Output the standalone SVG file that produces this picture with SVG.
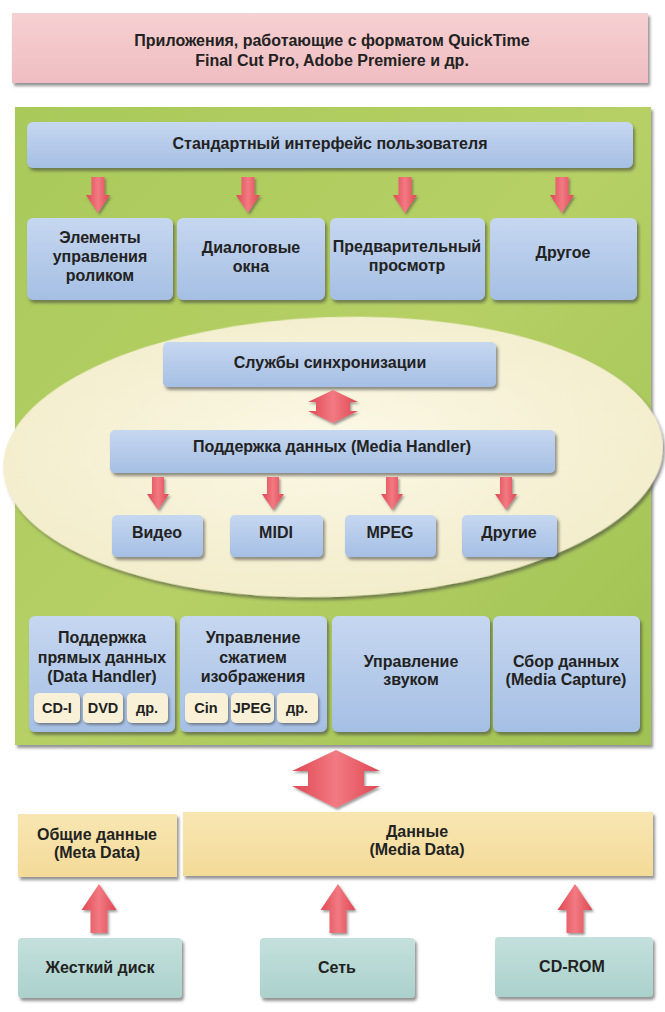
<svg xmlns="http://www.w3.org/2000/svg" width="665" height="1012" viewBox="0 0 665 1012">
<defs>
<filter id="sh" x="-10%" y="-10%" width="125%" height="135%">
<feDropShadow dx="2" dy="3" stdDeviation="1.6" flood-color="#3a3a3a" flood-opacity="0.55"/>
</filter>
<filter id="shs" x="-10%" y="-10%" width="125%" height="135%">
<feDropShadow dx="1.5" dy="2" stdDeviation="1.2" flood-color="#3a3a3a" flood-opacity="0.5"/>
</filter>
<linearGradient id="gBlue" x1="0" y1="0" x2="0" y2="1">
<stop offset="0" stop-color="#c6d7f0"/><stop offset="1" stop-color="#a5bfe4"/>
</linearGradient>
<linearGradient id="gPink" x1="0" y1="0" x2="0" y2="1">
<stop offset="0" stop-color="#f6d0d2"/><stop offset="1" stop-color="#efbdc1"/>
</linearGradient>
<linearGradient id="gGreen" x1="0" y1="0" x2="1" y2="1">
<stop offset="0" stop-color="#a9c95a"/><stop offset="0.5" stop-color="#b6d066"/><stop offset="1" stop-color="#9fc252"/>
</linearGradient>
<linearGradient id="gYellow" x1="0" y1="0" x2="0" y2="1">
<stop offset="0" stop-color="#f8e6b2"/><stop offset="1" stop-color="#f3da98"/>
</linearGradient>
<linearGradient id="gTeal" x1="0" y1="0" x2="0" y2="1">
<stop offset="0" stop-color="#c4e0dc"/><stop offset="1" stop-color="#abd1cc"/>
</linearGradient>
<linearGradient id="gRed" x1="0" y1="0" x2="1" y2="0">
<stop offset="0" stop-color="#df4753"/><stop offset="0.5" stop-color="#f27a82"/><stop offset="1" stop-color="#df4753"/>
</linearGradient>
<radialGradient id="gCream" cx="0.5" cy="0.45" r="0.6">
<stop offset="0" stop-color="#fbf8e6"/><stop offset="1" stop-color="#f2ecc9"/>
</radialGradient>
</defs>
<style>
.t{font-family:"Liberation Sans",Arial,sans-serif;font-size:16px;font-weight:bold;fill:#222;text-anchor:middle}
.s{font-size:14.5px}
.blue{fill:url(#gBlue);filter:url(#sh)}
.sub{fill:#f8f1d8;filter:url(#shs)}
.arrow{fill:url(#gRed);filter:url(#shs)}
</style>
<rect width="665" height="1012" fill="#ffffff"/>

<g id="apps">
<rect x="12" y="13" width="636" height="70" fill="url(#gPink)" filter="url(#sh)"/>
<text class="t" x="332" y="46">Приложения, работающие с форматом QuickTime</text>
<text class="t" x="332" y="66">Final Cut Pro, Adobe Premiere и др.</text>
</g>

<g id="quicktime-panel">
<rect x="15" y="107" width="636" height="638" fill="url(#gGreen)" filter="url(#sh)"/>
</g>

<g id="ui">
<rect class="blue" x="27" y="122" width="606" height="46" rx="6"/>
<text class="t" x="330" y="149">Стандартный интерфейс пользователя</text>
</g>

<g id="movie-controls">
<rect class="blue" x="27" y="218" width="146" height="82" rx="6"/>
<text class="t" x="100" y="243">Элементы</text>
<text class="t" x="100" y="262">управления</text>
<text class="t" x="100" y="281">роликом</text>
</g>
<g id="dialogs">
<rect class="blue" x="177" y="218" width="148" height="82" rx="6"/>
<text class="t" x="251" y="253">Диалоговые</text>
<text class="t" x="251" y="272">окна</text>
</g>
<g id="preview">
<rect class="blue" x="330" y="218" width="155" height="82" rx="6"/>
<text class="t" x="407" y="252">Предварительный</text>
<text class="t" x="407" y="271">просмотр</text>
</g>
<g id="other-ui">
<rect class="blue" x="490" y="218" width="147" height="82" rx="6"/>
<text class="t" x="563" y="258">Другое</text>
</g>

<g id="toolbox">
<ellipse cx="333" cy="457" rx="330" ry="140" transform="rotate(-2 333 457)" fill="url(#gCream)" filter="url(#sh)"/>
</g>

<g id="sync">
<rect class="blue" x="163" y="342" width="333" height="45" rx="5"/>
<text class="t" x="330" y="368">Службы синхронизации</text>
</g>
<g id="media-handler">
<rect class="blue" x="110" y="430" width="445" height="43" rx="5"/>
<text class="t" x="332" y="452">Поддержка данных (Media Handler)</text>
</g>
<g id="video">
<rect class="blue" x="112" y="515" width="91" height="42" rx="5"/>
<text class="t" x="157" y="538">Видео</text>
</g>
<g id="midi">
<rect class="blue" x="230" y="515" width="93" height="42" rx="5"/>
<text class="t" x="276" y="538">MIDI</text>
</g>
<g id="mpeg">
<rect class="blue" x="345" y="515" width="91" height="42" rx="5"/>
<text class="t" x="390" y="538">MPEG</text>
</g>
<g id="other-media">
<rect class="blue" x="462" y="515" width="95" height="42" rx="5"/>
<text class="t" x="509" y="538">Другие</text>
</g>

<g id="data-handler">
<rect class="blue" x="29" y="616" width="146" height="116" rx="6"/>
<text class="t" x="102" y="643">Поддержка</text>
<text class="t" x="102" y="663">прямых данных</text>
<text class="t" x="102" y="682">(Data Handler)</text>
<rect class="sub" x="34" y="693" width="46" height="30" rx="5"/>
<text class="t s" x="57" y="713">CD-I</text>
<rect class="sub" x="83" y="693" width="40" height="30" rx="5"/>
<text class="t s" x="103" y="713">DVD</text>
<rect class="sub" x="127" y="693" width="41" height="30" rx="5"/>
<text class="t s" x="147" y="713">др.</text>
</g>
<g id="image-compression">
<rect class="blue" x="180" y="616" width="147" height="116" rx="6"/>
<text class="t" x="253" y="643">Управление</text>
<text class="t" x="253" y="663">сжатием</text>
<text class="t" x="253" y="682">изображения</text>
<rect class="sub" x="185" y="693" width="43" height="30" rx="5"/>
<text class="t s" x="206" y="713">Cin</text>
<rect class="sub" x="231" y="693" width="43" height="30" rx="5"/>
<text class="t s" x="252" y="713">JPEG</text>
<rect class="sub" x="277" y="693" width="41" height="30" rx="5"/>
<text class="t s" x="297" y="713">др.</text>
</g>
<g id="sound">
<rect class="blue" x="332" y="616" width="158" height="116" rx="6"/>
<text class="t" x="411" y="667">Управление</text>
<text class="t" x="411" y="685">звуком</text>
</g>
<g id="media-capture">
<rect class="blue" x="493" y="616" width="147" height="116" rx="6"/>
<text class="t" x="566" y="667">Сбор данных</text>
<text class="t" x="566" y="685">(Media Capture)</text>
</g>

<g id="meta-data">
<rect x="18" y="814" width="159" height="63" fill="url(#gYellow)" filter="url(#sh)"/>
<text class="t" x="97" y="840">Общие данные</text>
<text class="t" x="97" y="858">(Meta Data)</text>
</g>
<g id="media-data">
<rect x="183" y="812" width="470" height="64" fill="url(#gYellow)" filter="url(#sh)"/>
<text class="t" x="417" y="837">Данные</text>
<text class="t" x="417" y="855">(Media Data)</text>
</g>

<g id="hard-disk">
<rect x="18" y="938" width="164" height="60" rx="4" fill="url(#gTeal)" filter="url(#sh)"/>
<text class="t" x="100" y="973">Жесткий диск</text>
</g>
<g id="network">
<rect x="260" y="938" width="155" height="60" rx="4" fill="url(#gTeal)" filter="url(#sh)"/>
<text class="t" x="337" y="973">Сеть</text>
</g>
<g id="cd-rom">
<rect x="495" y="937" width="158" height="60" rx="4" fill="url(#gTeal)" filter="url(#sh)"/>
<text class="t" x="572" y="972">CD-ROM</text>
</g>

<g id="connectors">
<path class="arrow" d="M91.5,177 H104.5 V195 H110 L98,213 L86,195 H91.5 Z"/>
<path class="arrow" d="M241.5,177 H254.5 V195 H260 L248,213 L236,195 H241.5 Z"/>
<path class="arrow" d="M398.5,177 H411.5 V195 H417 L405,213 L393,195 H398.5 Z"/>
<path class="arrow" d="M555.5,177 H568.5 V195 H574 L562,213 L550,195 H555.5 Z"/>
<path class="arrow" d="M333,390 L358,402 H350 V411 H358 L333,423 L308,411 H316 V402 H308 Z"/>
<path class="arrow" d="M152,477 H164 V494 H169 L158,510 L147,494 H152 Z"/>
<path class="arrow" d="M267,477 H279 V494 H284 L273,510 L262,494 H267 Z"/>
<path class="arrow" d="M386,477 H398 V494 H403 L392,510 L381,494 H386 Z"/>
<path class="arrow" d="M500,477 H512 V494 H517 L506,510 L495,494 H500 Z"/>
<path class="arrow" d="M336,750 L380,771 H364 V786 H380 L336,808 L292,786 H308 V771 H292 Z"/>
<path class="arrow" d="M99,884 L116.5,910 H107.5 V933 H90.5 V910 H81.5 Z"/>
<path class="arrow" d="M338,884 L355.5,910 H346.5 V933 H329.5 V910 H320.5 Z"/>
<path class="arrow" d="M575,884 L592.5,910 H583.5 V933 H566.5 V910 H557.5 Z"/>
</g>
</svg>
